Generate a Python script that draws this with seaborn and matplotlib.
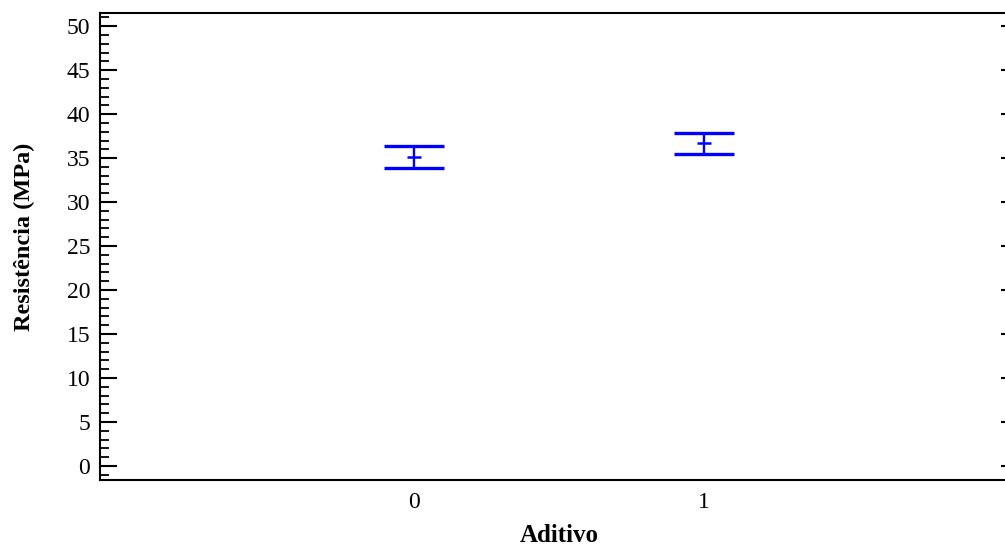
import matplotlib
matplotlib.use("Agg")
import matplotlib.pyplot as plt
import seaborn as sns
import pandas as pd
from matplotlib.ticker import MultipleLocator

# Means and LSD interval limits per additive level
aditivo = [0, 1]
media = [35.1, 36.67]
limite_inferior = [33.86, 35.50]
limite_superior = [36.36, 37.85]
yticks = [0, 5, 10, 15, 20, 25, 30, 35, 40, 45, 50]

sns.set_style("white")
plt.rcParams["font.family"] = ["Liberation Serif", "DejaVu Serif"]
plt.rcParams.update({"text.color": "black", "axes.labelcolor": "black",
                     "xtick.color": "black", "ytick.color": "black"})

df = pd.DataFrame({"Aditivo": aditivo, "Media": media,
                   "Inf": limite_inferior, "Sup": limite_superior})

fig = plt.figure(figsize=(10.05, 5.47), dpi=100)
ax = fig.add_axes([100 / 1005, 1 - 480 / 547, 918 / 1005, 467 / 547])

azul = "#0000FF"
err_low = df["Media"] - df["Inf"]
err_up = df["Sup"] - df["Media"]
ax.errorbar(df["Aditivo"], df["Media"], yerr=[err_low, err_up], fmt="none",
            ecolor=azul, elinewidth=1.7, capsize=21.6, capthick=2.4, zorder=3)
sns.scatterplot(data=df, x="Aditivo", y="Media", marker="_", s=110,
                color=azul, linewidth=1.8, ax=ax, zorder=4, legend=False)

ax.set_xlim(-1.08, 2.08)
ax.set_ylim(-1.6, 51.5)
ax.set_xticks(aditivo)
ax.set_xticklabels([str(a) for a in aditivo])
ax.set_yticks(yticks)
ax.yaxis.set_minor_locator(MultipleLocator(1))

ax.tick_params(axis="y", which="major", direction="in", length=12.5, width=1.5,
               left=True, right=True, labelsize=17, pad=7, colors="black")
ax.tick_params(axis="y", which="minor", direction="in", length=6.3, width=1.3,
               left=True, right=True, colors="black")
ax.tick_params(axis="x", which="both", length=0, labelsize=17, pad=8.5,
               colors="black")

for s in ax.spines.values():
    s.set_color("black")
    s.set_linewidth(1.5)

ax.set_xlabel("Aditivo", fontsize=18, fontweight="bold", labelpad=8)
ax.set_ylabel("Resistência (MPa)", fontsize=17.5, fontweight="bold", labelpad=23)
ax.yaxis.label.set_y(0.52)

fig.savefig("out.png", dpi=100)
